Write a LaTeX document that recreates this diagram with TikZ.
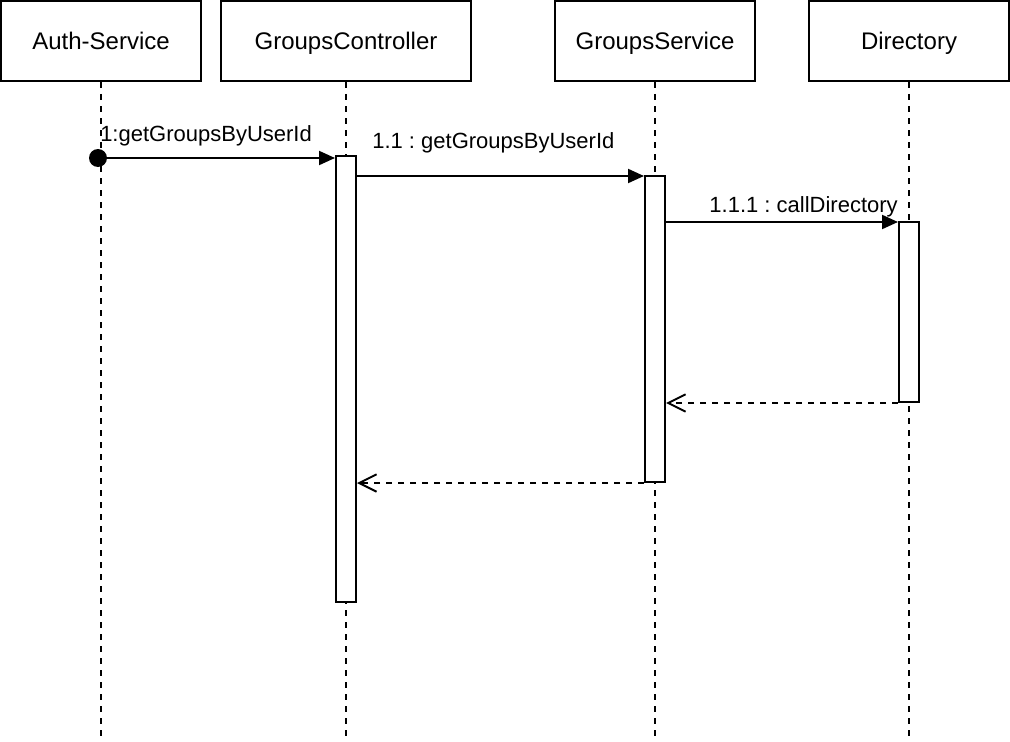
\documentclass[tikz,border=0pt]{standalone}
\usepackage{fontspec}
\setmainfont{Liberation Sans}
\usetikzlibrary{arrows.meta,calc}
\frenchspacing

\begin{document}
\begin{tikzpicture}[x=0.75pt,y=-0.75pt,
		head/.style={draw,line width=1.5pt,minimum height=60pt,inner sep=0pt,
			text height=12.9pt,text depth=0pt,font=\fontsize{18}{22}\selectfont},
		life/.style={line width=1.5pt,dash pattern=on 4.5pt off 4.5pt},
		act/.style={draw,fill=white,line width=1.5pt,minimum width=15pt,
			inner sep=0pt,anchor=north},
		msg/.style={line width=1.5pt,-{Triangle[length=12pt,width=10.5pt]}},
		ret/.style={line width=1.5pt,dash pattern=on 4.5pt off 4.5pt,
			-{Straight Barb[length=13pt,width=13pt]}},
		lbl/.style={inner sep=0pt,font=\fontsize{16.5}{20}\selectfont},
		start/.style={circle,fill,inner sep=0pt,minimum size=13.5pt}]
	
	\useasboundingbox (0,0) rectangle (1010,742);
	
	% Participants
	\node[head,minimum width=150pt] (auth) at (101,41) {Auth-Service};
	\node[head,minimum width=187.5pt] (ctrl) at (346,41) {GroupsController};
	\node[head,minimum width=150pt] (svc) at (655,41) {GroupsService};
	\node[head,minimum width=150pt] (dir) at (909,41) {Directory};
	
	% Lifelines
	\coordinate (bot) at (0,742);
	\foreach \p in {auth,ctrl,svc,dir} {
		\draw[life] (\p.south) -- (\p.south |- bot);
	}
	
	% Activations
	\node[act,minimum height=334.5pt] (actctrl) at (346,155) {};
	\node[act,minimum height=229.5pt] (actsvc) at (655,175) {};
	\node[act,minimum height=135pt] (actdir) at (909,221) {};
	
	% Calls
	\node[start] (dot) at (98,158) {};
	\draw[msg] (dot) -- (dot -| actctrl.west);
	\node[lbl,anchor=base west] (l1) at (100,141) {1:getGroupsByUserId};
	
	\coordinate (y11) at (0,176);
	\draw[msg] (actctrl.east |- y11) -- (actsvc.west |- y11);
	\node[lbl,anchor=base west] (l11) at (372,148) {1.1 : getGroupsByUserId};
	
	\coordinate (y111) at (0,222);
	\draw[msg] (actsvc.east |- y111) -- (actdir.west |- y111);
	\node[lbl,anchor=base east] (l111) at (898,212) {1.1.1 : callDirectory};
	
	% Returns
	\draw[ret] (actdir.south west) -- (actsvc.east |- actdir.south);
	\draw[ret] (actsvc.south west) -- (actctrl.east |- actsvc.south);
	
\end{tikzpicture}
\end{document}
